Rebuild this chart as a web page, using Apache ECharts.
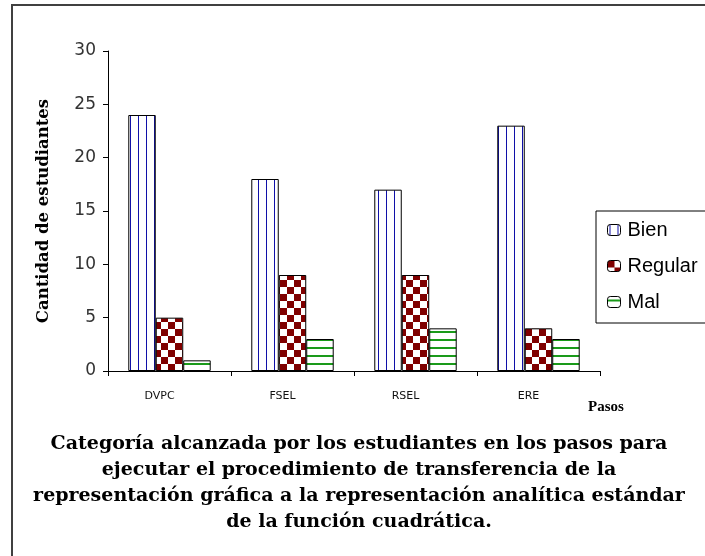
<!DOCTYPE html>
<html>
<head>
<meta charset="utf-8">
<script src="https://cdn.jsdelivr.net/npm/echarts@6/dist/echarts.min.js"></script>
<style>
  html, body { margin: 0; padding: 0; background: #fff; }
  #wrap { position: relative; width: 705px; height: 556px; overflow: hidden; }
  #frame {
    position: absolute; left: 11px; top: 4px; width: 800px; height: 700px;
    border-left: 2px solid #404040; border-top: 2px solid #404040;
  }
  #chart { position: absolute; left: 0; top: 0; width: 705px; height: 556px; }
</style>
</head>
<body>
<div id="wrap">
  <div id="frame"></div>
  <div id="chart"></div>
</div>
<script>
const categories = ['DVPC', 'FSEL', 'RSEL', 'ERE']
const bien = [24, 18, 17, 23]
const regular = [5, 9, 9, 4]
const mal = [1, 3, 4, 3]
const yTicks = [0, 5, 10, 15, 20, 25, 30]

const titleLines = [
  'Categoría alcanzada por los estudiantes en los pasos para',
  'ejecutar el procedimiento de transferencia de la',
  'representación gráfica a la representación analítica estándar',
  'de la función cuadrática.',
]

// fill patterns like the old office chart
function makePattern(size, draw) {
  const c = document.createElement('canvas')
  c.width = size
  c.height = size
  const ctx = c.getContext('2d')
  ctx.fillStyle = '#fff'
  ctx.fillRect(0, 0, size, size)
  draw(ctx)
  return { image: c, repeat: 'repeat' }
}

const vLines = makePattern(8, ctx => {
  ctx.fillStyle = '#1010a8'
  ctx.fillRect(2, 0, 1, 8)
})
const checker = makePattern(14, ctx => {
  ctx.fillStyle = '#800000'
  ctx.fillRect(0, 0, 7, 7)
  ctx.fillRect(7, 7, 7, 7)
})
const hLines = makePattern(8, ctx => {
  ctx.fillStyle = '#1a9a1a'
  ctx.fillRect(0, 3, 8, 2)
})

const chart = echarts.init(document.getElementById('chart'))

const barStyle = fill => ({ color: fill, borderColor: '#000', borderWidth: 1 })

chart.setOption({
  animation: false,
  title: {
    text: titleLines.join('\n'),
    left: 354,
    top: 426,
    textAlign: 'center',
    textStyle: {
      fontFamily: 'DejaVu Serif',
      fontWeight: 'bold',
      fontSize: 19,
      lineHeight: 26,
      color: '#000',
    },
  },
  legend: {
    orient: 'vertical',
    left: 596,
    top: 211,
    padding: [9, 40, 11, 11],
    itemGap: 16,
    itemWidth: 13,
    itemHeight: 11,
    borderColor: '#000',
    borderWidth: 1,
    itemStyle: { borderColor: '#000', borderWidth: 1 },
    textStyle: { fontFamily: 'Liberation Sans', fontSize: 20, color: '#000', padding: [0, 0, 0, 2] },
    data: ['Bien', 'Regular', 'Mal'],
  },
  grid: { left: 108, right: 105, top: 51, bottom: 185 },
  xAxis: {
    type: 'category',
    data: categories,
    name: 'Pasos',
    nameLocation: 'end',
    nameGap: 6,
    nameTextStyle: {
      fontFamily: 'Liberation Serif',
      fontWeight: 'bold',
      fontSize: 15,
      color: '#000',
      align: 'center',
      verticalAlign: 'top',
      padding: [29, 0, 0, 0],
    },
    axisLine: { lineStyle: { color: '#000', width: 1 } },
    axisTick: { show: true, length: 5, lineStyle: { color: '#000' } },
    axisLabel: {
      fontFamily: 'DejaVu Sans',
      fontSize: 11,
      color: '#111',
      margin: 20,
      padding: [0, 20, 0, 0],
    },
  },
  yAxis: {
    type: 'value',
    min: 0,
    max: 30,
    interval: 5,
    name: 'Cantidad de estudiantes',
    nameLocation: 'middle',
    nameGap: 56,
    nameTextStyle: {
      fontFamily: 'DejaVu Serif',
      fontWeight: 'bold',
      fontSize: 16.5,
      color: '#000',
    },
    axisLine: { show: true, lineStyle: { color: '#000', width: 1 } },
    axisTick: { show: true, length: 5, lineStyle: { color: '#000' } },
    splitLine: { show: false },
    axisLabel: {
      fontFamily: 'DejaVu Sans',
      fontSize: 17,
      color: '#333',
      margin: 12,
      formatter: v => (yTicks.includes(v) ? String(v) : ''),
    },
  },
  series: [
    { name: 'Bien', type: 'bar', data: bien, barGap: '0%', barCategoryGap: '33%', itemStyle: barStyle(vLines) },
    { name: 'Regular', type: 'bar', data: regular, barGap: '0%', barCategoryGap: '33%', itemStyle: barStyle(checker) },
    { name: 'Mal', type: 'bar', data: mal, barGap: '0%', barCategoryGap: '33%', itemStyle: barStyle(hLines) },
  ],
})
</script>
</body>
</html>
